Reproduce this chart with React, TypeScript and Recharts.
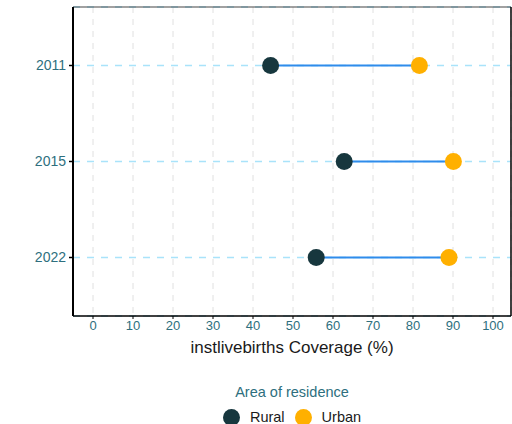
import React from 'react';
import {
  ComposedChart, XAxis, YAxis, CartesianGrid, Line, Bar, Legend,
} from 'recharts';

const years = ['2011', '2015', '2022'];
const ruralValues = [44.4, 62.8, 55.8];
const urbanValues = [81.6, 90.1, 89.0];
const xTicks = [0, 10, 20, 30, 40, 50, 60, 70, 80, 90, 100];
const seriesNames = ['Rural', 'Urban'];
const seriesColors = ['#17373E', '#FFB000'];
const axisTitle = 'instlivebirths Coverage (%)';
const legendTitle = 'Area of residence';

const data = years.map((year, i) => ({
  year,
  rural: ruralValues[i],
  urban: urbanValues[i],
  range: [ruralValues[i], urbanValues[i]],
}));

const FONT = '"Liberation Sans", Arial, sans-serif';
const TEAL = '#2E6F7E';

const Dot = (color: string) => (props: any) => {
  const { cx, cy, key } = props;
  if (cx == null || cy == null) return <g key={key} />;
  return <circle key={key} cx={cx} cy={cy} r={8.5} fill={color} stroke="none" />;
};

const LegendContent = () => (
  <div style={{ height: 63, position: 'relative', fontFamily: FONT }}>
    <div
      style={{
        position: 'absolute', top: 23, left: 0, width: '100%', textAlign: 'center',
        fontSize: 14.5, lineHeight: '17px', color: TEAL,
      }}
    >
      {legendTitle}
    </div>
    <div
      style={{
        position: 'absolute', top: 47, left: 0, width: '100%', height: 18,
        display: 'flex', justifyContent: 'center', alignItems: 'center',
      }}
    >
      {seriesNames.map((name, i) => (
        <div key={name} style={{ display: 'flex', alignItems: 'center', marginLeft: i === 0 ? 0 : 10 }}>
          <span
            style={{
              display: 'inline-block', width: 17, height: 17, borderRadius: '50%',
              background: seriesColors[i],
            }}
          />
          <span style={{ marginLeft: 10, fontSize: 14.5, color: '#1a1a1a', lineHeight: '17px' }}>{name}</span>
        </div>
      ))}
    </div>
  </div>
);

export default function App() {
  return (
    <div style={{ position: 'absolute', left: 0, top: 0, background: '#fff' }}>
      <ComposedChart
        width={512}
        height={424}
        data={data}
        layout="vertical"
        margin={{ top: 6, right: 0, bottom: 0, left: 0 }}
      >
        <CartesianGrid horizontal={false} stroke="#E0E0E0" strokeDasharray="6 6" />
        <CartesianGrid vertical={false} stroke="#A9E3FA" strokeWidth={1.3} strokeDasharray="7 7" />
        <XAxis
          type="number"
          domain={[-5, 104.5]}
          ticks={xTicks}
          allowDataOverflow
          height={45}
          tickSize={3}
          tickMargin={2}
          tickLine={{ stroke: '#000' }}
          axisLine={{ stroke: '#000', strokeWidth: 1.5 }}
          tick={{ fill: TEAL, fontSize: 13, fontFamily: FONT }}
          label={{
            value: axisTitle, position: 'insideBottom', offset: 8,
            style: { fill: '#1a1a1a', fontSize: 17, fontFamily: FONT },
          }}
        />
        <XAxis
          xAxisId="top"
          orientation="top"
          type="number"
          domain={[-5, 104.5]}
          allowDataOverflow
          height={1}
          tick={false}
          tickLine={false}
          axisLine={{ stroke: '#444', strokeWidth: 1.2 }}
        />
        <YAxis
          type="category"
          dataKey="year"
          width={73}
          padding={{ top: 10.5, bottom: 10.5 }}
          tickSize={4}
          tickMargin={3}
          tickLine={{ stroke: '#000', strokeWidth: 1.5 }}
          axisLine={{ stroke: '#000', strokeWidth: 2 }}
          tick={{ fill: TEAL, fontSize: 14, fontFamily: FONT }}
        />
        <YAxis
          yAxisId="right"
          orientation="right"
          type="category"
          dataKey="year"
          width={1}
          tick={false}
          tickLine={false}
          axisLine={{ stroke: '#000', strokeWidth: 1.5 }}
        />
        <Line
          dataKey="rural"
          name={seriesNames[0]}
          stroke="none"
          dot={Dot(seriesColors[0])}
          activeDot={false}
          isAnimationActive={false}
        />
        <Line
          dataKey="urban"
          name={seriesNames[1]}
          stroke="none"
          dot={Dot(seriesColors[1])}
          activeDot={false}
          isAnimationActive={false}
        />
        <Bar dataKey="range" fill="#2F8CEB" barSize={2} isAnimationActive={false} />
        <Legend
          verticalAlign="bottom"
          content={<LegendContent />}
          wrapperStyle={{ left: 73, width: 438 }}
        />
      </ComposedChart>
    </div>
  );
}
